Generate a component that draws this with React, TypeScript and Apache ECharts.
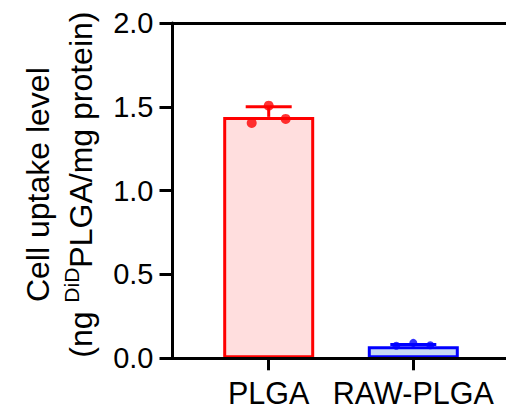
import React, { useEffect, useRef } from "react";
import * as echarts from "echarts";

const categories = ["PLGA", "RAW-PLGA"];
const means = [1.44, 0.072];
const sds = [0.06, 0.011];
const pointsPLGA = [1.404, 1.507, 1.428];
const pointsRAW = [0.075, 0.092, 0.078];
const pointOffsets = [-17, 0, 17];
const yMin = 0;
const yMax = 2;
const yInterval = 0.5;
const strokeColors = ["#FF0000", "#0000FF"];
const fillColors = ["#FFDEDE", "#C6D9F4"];
const pointSizes = [10, 8];

const FONT = "'Liberation Sans', Arial, sans-serif";

export default function App() {
  const ref = useRef<HTMLDivElement>(null);
  useEffect(() => {
    if (!ref.current) return;
    const chart = echarts.init(ref.current, null, { renderer: "svg" });
    const allPoints = [pointsPLGA, pointsRAW];
    const scatterData: any[] = [];
    allPoints.forEach((pts, ci) => {
      pts.forEach((v, k) => {
        scatterData.push({
          value: [ci, v],
          symbolOffset: [pointOffsets[k], 0],
          symbolSize: pointSizes[ci],
          itemStyle: { color: strokeColors[ci] },
        });
      });
    });
    const option: any = {
      animation: false,
      backgroundColor: "#ffffff",
      grid: [
        { left: 172.5, right: 0, top: 23, bottom: 51.7 },
        { left: 196.4, right: 20.4, top: 23, bottom: 51.7 },
      ],
      xAxis: [
        {
          gridIndex: 0,
          type: "value",
          min: 0,
          max: 1,
          position: "bottom",
          z: 10,
          axisLine: { show: true, lineStyle: { color: "#000", width: 3 } },
          axisTick: { show: false },
          axisLabel: { show: false },
          splitLine: { show: false },
        },
        {
          gridIndex: 1,
          type: "category",
          data: categories,
          axisLine: { show: false },
          axisTick: {
            show: true,
            alignWithLabel: true,
            interval: 0,
            length: 12,
            lineStyle: { color: "#000", width: 3 },
          },
          axisLabel: {
            color: "#000",
            fontSize: 30.5,
            fontFamily: FONT,
            margin: 19,
            interval: 0,
            hideOverlap: false,
          },
          splitLine: { show: false },
        },
        {
          gridIndex: 0,
          type: "value",
          min: 0,
          max: 1,
          position: "top",
          z: 10,
          axisLine: { show: true, lineStyle: { color: "#000", width: 3 } },
          axisTick: { show: false },
          axisLabel: { show: false },
          splitLine: { show: false },
        },
      ],
      yAxis: [
        {
          gridIndex: 0,
          type: "value",
          min: yMin,
          max: yMax,
          interval: yInterval,
          z: 10,
          axisLine: { show: true, lineStyle: { color: "#000", width: 3 } },
          axisTick: {
            show: true,
            length: 13,
            lineStyle: { color: "#000", width: 3 },
          },
          axisLabel: {
            color: "#000",
            fontSize: 29,
            fontFamily: FONT,
            margin: 19,
            formatter: (v: number) => v.toFixed(1),
          },
          splitLine: { show: false },
          name: "{l1|Cell uptake level}\n{l2|(ng }{sup|DiD}{l2|PLGA/mg protein)}",
          nameLocation: "middle",
          nameRotate: 90,
          nameGap: 80,
          nameTextStyle: {
            color: "#000",
            fontFamily: FONT,
            padding: [0, 0, 0, 12],
            rich: {
              l1: { fontSize: 32, lineHeight: 46, fontFamily: FONT, color: "#000" },
              l2: {
                fontSize: 32,
                lineHeight: 32,
                padding: [8, 0, 0, 0],
                fontFamily: FONT,
                color: "#000",
              },
              sup: {
                fontSize: 21,
                lineHeight: 21,
                verticalAlign: "top",
                fontFamily: FONT,
                color: "#000",
              },
            },
          },
        },
        {
          gridIndex: 1,
          type: "value",
          min: yMin,
          max: yMax,
          interval: yInterval,
          show: false,
          splitLine: { show: false },
        },
      ],
      series: [
        {
          type: "bar",
          xAxisIndex: 1,
          yAxisIndex: 1,
          barWidth: 91,
          z: 2,
          data: means.map((m, i) => ({
            value: m,
            itemStyle: {
              color: fillColors[i],
              borderColor: strokeColors[i],
              borderWidth: 3,
            },
          })),
        },
        {
          type: "custom",
          xAxisIndex: 1,
          yAxisIndex: 1,
          z: 3,
          data: means.map((m, i) => [i, m, sds[i]]),
          renderItem: (params: any, api: any) => {
            const i = api.value(0);
            const m = api.value(1);
            const s = api.value(2);
            const p0 = api.coord([i, m]);
            const p1 = api.coord([i, m + s]);
            const c = strokeColors[params.dataIndex];
            const half = 23;
            return {
              type: "group",
              children: [
                {
                  type: "line",
                  shape: { x1: p0[0], y1: p0[1], x2: p1[0], y2: p1[1] },
                  style: { stroke: c, lineWidth: 3 },
                },
                {
                  type: "line",
                  shape: { x1: p1[0] - half, y1: p1[1], x2: p1[0] + half, y2: p1[1] },
                  style: { stroke: c, lineWidth: 3 },
                },
              ],
            };
          },
        },
        {
          type: "scatter",
          xAxisIndex: 1,
          yAxisIndex: 1,
          z: 4,
          symbol: "circle",
          data: scatterData,
        },
      ],
    };
    chart.setOption(option);
    return () => chart.dispose();
  }, []);
  return (
    <div
      ref={ref}
      style={{ position: "fixed", left: 0, top: 0, width: 506, height: 410, background: "#fff" }}
    />
  );
}
